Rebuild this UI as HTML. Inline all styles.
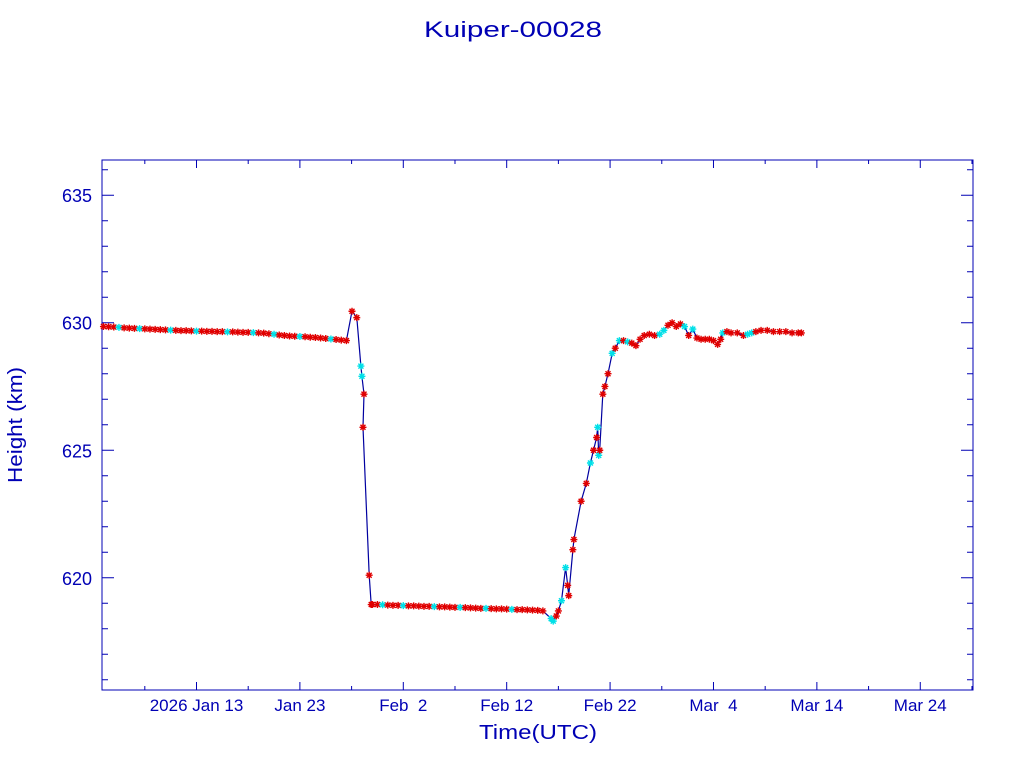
<!DOCTYPE html>
<html><head><meta charset="utf-8"><style>
html,body{margin:0;padding:0;background:#fff;}
svg{display:block;}
text{font-family:"Liberation Sans",sans-serif;fill:#0000b4;}
</style></head><body>
<svg id="chart" width="1024" height="768" viewBox="0 0 1024 768" xmlns="http://www.w3.org/2000/svg">
<text x="513" y="37" text-anchor="middle" font-size="22" textLength="178" lengthAdjust="spacingAndGlyphs">Kuiper-00028</text>
<rect x="102" y="160" width="871" height="530" fill="none" stroke="#0000b4" stroke-width="1"/>
<g id="axes"></g>
<g id="series"></g>
<text x="538" y="739" text-anchor="middle" font-size="20" textLength="118" lengthAdjust="spacingAndGlyphs">Time(UTC)</text>
<text transform="translate(22,425) rotate(-90)" text-anchor="middle" font-size="20" textLength="116" lengthAdjust="spacingAndGlyphs">Height (km)</text>
</svg>
<script>
const xTickDays=[13,23,33,43,53,63,73,83];
const xTickLabels=["2026 Jan 13","Jan 23","Feb  2","Feb 12","Feb 22","Mar  4","Mar 14","Mar 24"];
const yTicks=[620,625,630,635];
const days=[4,4.5,5,5.5,6,6.5,7,7.5,8,8.5,
9,9.5,10,10.5,11,11.5,12,12.5,13,13.5,
14,14.5,15,15.5,16,16.5,17,17.5,18,18.5,
19,19.5,20,20.5,21,21.5,22,22.5,23,23.5,
24,24.5,25,25.5,26,26.5,27,27.5,
28.04,28.5,28.9,29.0,29.2,29.1,29.7,29.9,
30,30.5,31,31.5,32,32.5,33,33.5,34,34.5,
35,35.5,36,36.5,37,37.5,38,38.5,39,39.5,
40,40.5,41,41.5,42,42.5,43,43.5,44,44.5,
45,45.5,46,46.5,
47.3,47.5,47.8,48.0,48.3,48.7,48.9,49.0,49.4,49.5,
50.2,50.7,51.1,51.4,51.7,51.8,51.9,52.0,52.3,52.5,
52.8,53.2,53.5,53.9,54.3,54.7,55.1,55.5,55.9,56.3,
56.8,57.3,57.8,58.2,58.6,59.0,59.4,59.8,60.2,60.6,
61.0,61.4,61.8,62.2,62.6,63.0,63.4,63.7,63.9,64.3,
64.7,65.3,65.9,66.3,66.7,67.1,67.6,68.2,68.8,69.4,
70.0,70.6,71.2,71.5];
const heights=[629.85,629.84,629.83,629.82,629.80,629.79,629.78,629.77,629.76,629.75,
629.74,629.73,629.72,629.71,629.70,629.69,629.69,629.68,629.67,629.67,
629.66,629.66,629.65,629.65,629.64,629.64,629.63,629.62,629.62,629.61,
629.60,629.59,629.57,629.55,629.52,629.50,629.48,629.47,629.46,629.45,
629.43,629.42,629.40,629.38,629.36,629.34,629.32,629.30,
630.45,630.2,628.3,627.9,627.2,625.9,620.1,618.95,
618.95,618.95,618.94,618.93,618.92,618.92,618.91,618.90,618.90,618.89,
618.88,618.88,618.87,618.86,618.86,618.85,618.84,618.84,618.83,618.82,
618.81,618.80,618.80,618.79,618.78,618.78,618.77,618.76,618.75,618.75,
618.74,618.73,618.72,618.70,
618.4,618.3,618.5,618.7,619.1,620.4,619.7,619.3,621.1,621.5,
623.0,623.7,624.5,625.0,625.5,625.9,624.8,625.0,627.2,627.5,
628.0,628.8,629.0,629.3,629.3,629.25,629.2,629.1,629.35,629.5,
629.55,629.5,629.55,629.7,629.9,630.0,629.85,629.95,629.85,629.5,
629.75,629.4,629.35,629.35,629.35,629.3,629.15,629.35,629.6,629.65,
629.6,629.6,629.5,629.55,629.6,629.65,629.7,629.7,629.65,629.65,
629.65,629.6,629.6,629.6];
const kinds="rrrcrrrcrrrrrcrrrrcrrrrrcrrrrcrrrcrrrrcrrrrrcrr"+"rrrccrrr"+"rrrcrrrcrrrrrcrrrrcrrrrcrrrrcrrrr"+"rrccrrccrrrrrrcrrccrrrrcrcrcrrrrrrccrrrrcrcrrrrrrrcrrrrccrrrrrrrr";

const NS="http://www.w3.org/2000/svg";
const X0=102,X1=973,Y0=690,Y1=160,DMIN=3.86,DMAX=88.1,HMIN=615.6,HMAX=636.38;
const xs=d=>X0+(d-DMIN)/(DMAX-DMIN)*(X1-X0);
const ys=h=>Y0-(h-HMIN)/(HMAX-HMIN)*(Y0-Y1);
const axes=document.getElementById('axes'),series=document.getElementById('series');
function mk(tag,attrs,parent){const e=document.createElementNS(NS,tag);for(const k in attrs)e.setAttribute(k,attrs[k]);parent.appendChild(e);return e;}
// x ticks every 5 days
for(let d=8;d<=88;d+=5){
  const major=xTickDays.includes(d);const L=major?8:4;const x=xs(d);
  const t=mk('path',{d:`M${x},${Y0}v${-L}M${x},${Y1}v${L}`,stroke:'#0000b4','stroke-width':1},axes);
  
  
}
xTickDays.forEach((d,i)=>{
  const t=mk('text',{x:xs(d),y:711,'text-anchor':'middle','font-size':17},axes);
  
  
  t.textContent=xTickLabels[i];t.setAttribute('xml:space','preserve');t.style.whiteSpace='pre';
});
for(let h=616;h<=636;h++){
  const major=yTicks.includes(h);const L=major?12:6;const y=ys(h);
  const t=mk('path',{d:`M${X0},${y}h${L}M${X1},${y}h${-L}`,stroke:'#0000b4','stroke-width':1},axes);
  
  
}
yTicks.forEach(h=>{
  const t=mk('text',{x:92,y:ys(h)+7,'text-anchor':'end','font-size':18},axes);
  
  
  t.textContent=h;
});
const n=Math.min(days.length,heights.length);
let dstr='';for(let i=0;i<n;i++)dstr+=(i?'L':'M')+xs(days[i]).toFixed(1)+','+ys(heights[i]).toFixed(1);
const line=mk('path',{d:dstr,fill:'none',stroke:'#0000a0','stroke-width':1.2},series);


for(let i=0;i<n;i++){
  const x=xs(days[i]),y=ys(heights[i]),c=kinds[i]==='c'?'#00e0e8':'#e00000';
  const m=mk('path',{d:`M${x-3.5},${y}h7M${x},${y-3.5}v7M${x-2.5},${y-2.5}l5,5M${x-2.5},${y+2.5}l5,-5`,stroke:c,'stroke-width':1.4},series);
  
  
}
</script>
</body></html>
